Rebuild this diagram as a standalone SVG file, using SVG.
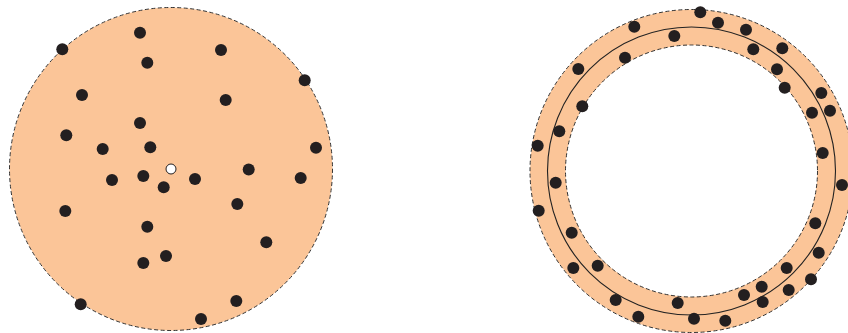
<svg xmlns="http://www.w3.org/2000/svg" width="848" height="333" viewBox="0 0 848 333">
<defs>
<style>
.region{fill:#fbc598;stroke:#333;stroke-width:1;stroke-dasharray:4 2.5}
.hole{fill:#fff;stroke:#333;stroke-width:1;stroke-dasharray:4 2.5}
.ring{fill:none;stroke:#222;stroke-width:1.1}
.dot{fill:#231f20}
.ctr{fill:#fff;stroke:#231f20;stroke-width:1}
</style>
<circle id="d" r="6"/>
</defs>
<rect width="848" height="333" fill="#fff"/>
<g id="disk">
<circle class="region" cx="171" cy="169" r="161.5"/>
<g class="dot">
<use href="#d" x="62.3" y="49.3"/>
<use href="#d" x="140" y="32.7"/>
<use href="#d" x="221" y="50"/>
<use href="#d" x="147.3" y="62.7"/>
<use href="#d" x="304.7" y="80.3"/>
<use href="#d" x="82" y="95"/>
<use href="#d" x="225.7" y="100"/>
<use href="#d" x="140" y="123"/>
<use href="#d" x="66.3" y="135.3"/>
<use href="#d" x="102.7" y="149"/>
<use href="#d" x="150.3" y="147.3"/>
<use href="#d" x="316" y="147.7"/>
<use href="#d" x="248.7" y="169.5"/>
<use href="#d" x="112" y="180"/>
<use href="#d" x="143.3" y="176"/>
<use href="#d" x="163.7" y="187.3"/>
<use href="#d" x="195" y="179"/>
<use href="#d" x="300.7" y="178"/>
<use href="#d" x="65.3" y="211"/>
<use href="#d" x="237.3" y="204"/>
<use href="#d" x="147.3" y="226.7"/>
<use href="#d" x="266.3" y="242.3"/>
<use href="#d" x="166" y="256"/>
<use href="#d" x="143.3" y="263"/>
<use href="#d" x="80.7" y="304.3"/>
<use href="#d" x="236.3" y="301"/>
<use href="#d" x="201" y="319"/>
</g>
<circle class="ctr" cx="171" cy="169" r="5"/>
</g>
<g id="annulus">
<circle class="region" cx="691.5" cy="171" r="161.5"/>
<circle class="hole" cx="691.5" cy="171" r="126"/>
<circle class="ring" cx="691.5" cy="171" r="144"/>
<g class="dot">
<use href="#d" x="700.3" y="12.3"/>
<use href="#d" x="634.3" y="26.7"/>
<use href="#d" x="718" y="22.7"/>
<use href="#d" x="746" y="29.7"/>
<use href="#d" x="674.3" y="36"/>
<use href="#d" x="782.3" y="48.3"/>
<use href="#d" x="753.3" y="49.3"/>
<use href="#d" x="625" y="57.7"/>
<use href="#d" x="578.3" y="69"/>
<use href="#d" x="777" y="69.3"/>
<use href="#d" x="784.7" y="87.7"/>
<use href="#d" x="821.3" y="93"/>
<use href="#d" x="582.3" y="106.3"/>
<use href="#d" x="812" y="112.7"/>
<use href="#d" x="830" y="110.7"/>
<use href="#d" x="559.3" y="131.3"/>
<use href="#d" x="537.7" y="145.7"/>
<use href="#d" x="822.7" y="153"/>
<use href="#d" x="842" y="185"/>
<use href="#d" x="555.7" y="182.7"/>
<use href="#d" x="538.7" y="210.7"/>
<use href="#d" x="815.3" y="223.3"/>
<use href="#d" x="571.7" y="232.7"/>
<use href="#d" x="818.7" y="252.7"/>
<use href="#d" x="573.3" y="268"/>
<use href="#d" x="597.7" y="265.7"/>
<use href="#d" x="786.7" y="268"/>
<use href="#d" x="811" y="279.3"/>
<use href="#d" x="761.7" y="286.7"/>
<use href="#d" x="788.7" y="290"/>
<use href="#d" x="744" y="295"/>
<use href="#d" x="762.7" y="302"/>
<use href="#d" x="615.7" y="300"/>
<use href="#d" x="677.7" y="303"/>
<use href="#d" x="638.3" y="316.7"/>
<use href="#d" x="694" y="318.7"/>
<use href="#d" x="725.3" y="320.7"/>
</g>
</g>
<g id="connectors"></g>
</svg>
